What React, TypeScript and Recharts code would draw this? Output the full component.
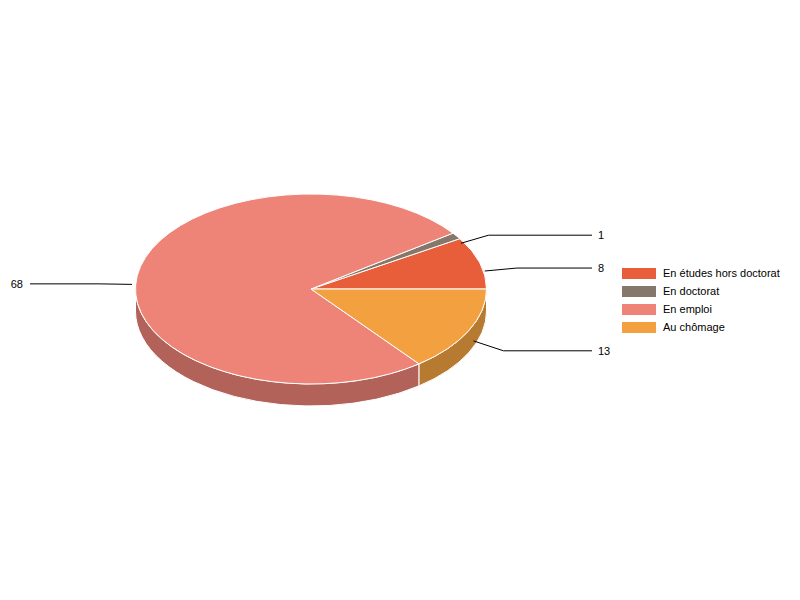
import React from "react";
import { PieChart, Pie, Legend } from "recharts";

const categories = ["En études hors doctorat", "En doctorat", "En emploi", "Au chômage"];
const values = [8, 1, 68, 13];
const topColors = ["#e95e3a", "#85776a", "#ee8377", "#f3a041"];
const sideColors = ["#a8442a", "#5f554c", "#b26259", "#b77a31"];

const data = categories.map((name, i) => ({
  name,
  value: values[i],
  fill: topColors[i],
  side: sideColors[i],
}));

const CX = 311;
const CY = 289;
const R = 175.5;
const K = 95 / 175.5;
const DEPTH = 22;
const RAD = Math.PI / 180;

function pt(cx: number, cy: number, r: number, a: number, dy = 0): [number, number] {
  return [cx + r * Math.cos(a * RAD), cy - r * K * Math.sin(a * RAD) + dy];
}

const TopShape = (props: any) => {
  const { cx, cy, outerRadius, startAngle, endAngle, fill } = props;
  const s = Math.min(startAngle, endAngle);
  const e = Math.max(startAngle, endAngle);
  const p1 = pt(cx, cy, outerRadius, s);
  const p2 = pt(cx, cy, outerRadius, e);
  const large = e - s > 180 ? 1 : 0;
  const d = `M${cx},${cy} L${p1[0]},${p1[1]} A${outerRadius},${outerRadius * K} 0 ${large} 0 ${p2[0]},${p2[1]} Z`;
  return <path d={d} fill={fill} stroke="#ffffff" strokeWidth={1} strokeLinejoin="round" />;
};

const SideShape = (props: any) => {
  const { cx, cy, outerRadius, startAngle, endAngle, payload } = props;
  const s0 = Math.min(startAngle, endAngle);
  const e0 = Math.max(startAngle, endAngle);
  const s = Math.max(s0, 180);
  const e = Math.min(e0, 360);
  if (e <= s) return <g />;
  const a = pt(cx, cy, outerRadius, s);
  const b = pt(cx, cy, outerRadius, e);
  const c = pt(cx, cy, outerRadius, e, DEPTH);
  const dd = pt(cx, cy, outerRadius, s, DEPTH);
  const ry = outerRadius * K;
  const d = `M${a[0]},${a[1]} A${outerRadius},${ry} 0 0 0 ${b[0]},${b[1]} L${c[0]},${c[1]} A${outerRadius},${ry} 0 0 1 ${dd[0]},${dd[1]} Z`;
  const col = (payload && payload.side) || props.side;
  return <path d={d} fill={col} stroke="#ffffff" strokeWidth={1} strokeLinejoin="round" />;
};

const renderLabel = (props: any) => {
  const { cx, cy, outerRadius, midAngle, value } = props;
  const start = pt(cx, cy, outerRadius * 1.03, midAngle, DEPTH / 2 - 2);
  const elbow = pt(cx, cy, outerRadius * 1.22, midAngle, DEPTH / 2);
  const right = Math.cos(midAngle * RAD) >= 0;
  const endX = right ? 592 : 30;
  const textX = right ? 598 : 23;
  return (
    <g>
      <polyline
        points={`${start[0]},${start[1]} ${elbow[0]},${elbow[1]} ${endX},${elbow[1]}`}
        fill="none"
        stroke="#000000"
        strokeWidth={1}
      />
      <text
        x={textX}
        y={elbow[1]}
        dy={4}
        textAnchor={right ? "start" : "end"}
        fontFamily="Arial, 'Liberation Sans', sans-serif"
        fontSize={11}
        fill="#000000"
      >
        {value}
      </text>
    </g>
  );
};

const LegendContent = () => {
  return (
    <div style={{ fontFamily: "Arial, 'Liberation Sans', sans-serif", fontSize: 11, color: "#000" }}>
      {data.map((p, i) => (
        <div key={i} style={{ height: 18, display: "flex", alignItems: "center" }}>
          <span
            style={{
              display: "inline-block",
              width: 34,
              height: 11,
              background: p.fill,
              marginRight: 7,
            }}
          />
          <span>{p.name}</span>
        </div>
      ))}
    </div>
  );
};

export default function App() {
  return (
    <div style={{ position: "absolute", left: 0, top: 0, width: 800, height: 600, background: "#fff" }}>
      <PieChart width={800} height={600} margin={{ top: 0, right: 0, bottom: 0, left: 0 }}>
        <Pie
          data={data}
          dataKey="value"
          nameKey="name"
          cx={CX}
          cy={CY}
          outerRadius={R}
          startAngle={0}
          endAngle={360}
          isAnimationActive={false}
          legendType="none"
          shape={SideShape}
          activeShape={SideShape}
          inactiveShape={SideShape}
          label={false}
          labelLine={false}
        />
        <Pie
          data={data}
          dataKey="value"
          nameKey="name"
          cx={CX}
          cy={CY}
          outerRadius={R}
          startAngle={0}
          endAngle={360}
          isAnimationActive={false}
          legendType="rect"
          shape={TopShape}
          activeShape={TopShape}
          inactiveShape={TopShape}
          label={renderLabel}
          labelLine={false}
        />
        <Legend
          layout="vertical"
          content={<LegendContent />}
          wrapperStyle={{ position: "absolute", left: 622, top: 264, width: 170 }}
        />
      </PieChart>
    </div>
  );
}
